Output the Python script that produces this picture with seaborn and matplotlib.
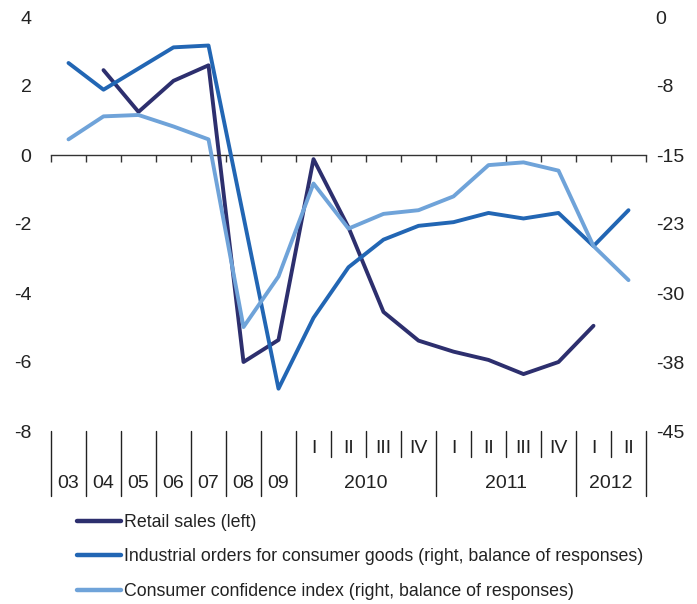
import numpy as np
import pandas as pd
import seaborn as sns
import matplotlib.pyplot as plt
from matplotlib.lines import Line2D
from matplotlib.transforms import blended_transform_factory

# Periods: annual 2003-2009, then quarterly 2010 Q1 - 2012 Q2
annual_labels = ["03", "04", "05", "06", "07", "08", "09"]
quarter_labels = ["I", "II", "III", "IV", "I", "II", "III", "IV", "I", "II"]
year_labels = ["2010", "2011", "2012"]
year_quarters = [4, 4, 2]

retail_sales = [np.nan, 2.46, 1.25, 2.15, 2.6, -6.0, -5.36, -0.12, -2.1, -4.55,
                -5.38, -5.7, -5.94, -6.35, -6.0, -4.95, np.nan]
industrial_orders = [-5.0, -7.9, -5.6, -3.3, -3.1, -21.7, -40.4, -32.7, -27.2,
                     -24.2, -22.7, -22.3, -21.3, -21.9, -21.3, -24.9, -21.0]
consumer_confidence = [-13.3, -10.8, -10.65, -11.9, -13.3, -33.7, -28.2, -18.1,
                       -23.0, -21.4, -21.0, -19.5, -16.1, -15.8, -16.7, -24.9, -28.6]

left_ticks = [-8, -6, -4, -2, 0, 2, 4]
right_ticks = [0, -7.5, -15, -22.5, -30, -37.5, -45]
right_tick_labels = ["0", "-8", "-15", "-23", "-30", "-38", "-45"]

series_names = [
    "Retail sales (left)",
    "Industrial orders for consumer goods (right, balance of responses)",
    "Consumer confidence index (right, balance of responses)",
]
colors = ["#2d2f6e", "#2266b4", "#6fa3d9"]

n = len(industrial_orders)
df = pd.DataFrame({
    "period": np.arange(n),
    "retail": retail_sales,
    "orders": industrial_orders,
    "confidence": consumer_confidence,
})

sns.set_style("white")
plt.rcParams["font.family"] = ["Liberation Sans", "DejaVu Sans"]
text_color = "#222222"
fs = 14

fig = plt.figure(figsize=(6.97, 6.04), dpi=100)
ax = fig.add_axes([51 / 697, 1 - 431 / 604, 595 / 697, 414 / 604])
ax2 = ax.twinx()

lw = 2.8
sns.lineplot(data=df.dropna(subset=["retail"]), x="period", y="retail", ax=ax,
             color=colors[0], linewidth=lw, legend=False)
sns.lineplot(data=df, x="period", y="orders", ax=ax2,
             color=colors[1], linewidth=lw, legend=False)
sns.lineplot(data=df, x="period", y="confidence", ax=ax2,
             color=colors[2], linewidth=lw, legend=False)

ax.set_xlim(-0.5, n - 0.5)
ax.set_ylim(-8, 4)
ax2.set_ylim(-45, 0)

for a in (ax, ax2):
    for s in a.spines.values():
        s.set_visible(False)
    a.set_xlabel("")
    a.set_ylabel("")

# zero line acting as x axis with boundary ticks
ax.spines["bottom"].set_visible(True)
ax.spines["bottom"].set_position(("data", 0))
ax.spines["bottom"].set_color("#333333")
ax.spines["bottom"].set_linewidth(1.0)
boundaries = np.arange(n + 1) - 0.5
ax.set_xticks(boundaries)
ax.set_xticklabels([])
ax.tick_params(axis="x", direction="out", length=5, width=1, color="#333333",
               bottom=True)

ax.set_yticks(left_ticks)
ax.set_yticklabels([str(t) for t in left_ticks])
ax.tick_params(axis="y", length=0, pad=14, labelsize=fs, labelcolor=text_color)
ax2.set_yticks(right_ticks)
ax2.set_yticklabels(right_tick_labels)
ax2.tick_params(axis="y", length=0, pad=7, labelsize=fs, labelcolor=text_color)

# category table below the plot
trans = blended_transform_factory(ax.transData, ax.transAxes)
full_bottom = -0.158
short_bottom = -0.062
n_annual = len(annual_labels)
full_bounds = list(range(n_annual + 1))
pos = n_annual
for q in year_quarters:
    pos += q
    full_bounds.append(pos)
for b in range(n + 1):
    bottom = full_bottom if b in full_bounds else short_bottom
    ax.plot([b - 0.5, b - 0.5], [0, bottom], transform=trans, color="#222222",
            lw=1.0, clip_on=False)

for i, lab in enumerate(annual_labels):
    ax.text(i, -0.126, lab, transform=trans, ha="center", va="center",
            fontsize=fs, color=text_color)
for j, lab in enumerate(quarter_labels):
    ax.text(n_annual + j, -0.042, lab, transform=trans, ha="center", va="center",
            fontsize=fs, color=text_color)
start = n_annual
for lab, q in zip(year_labels, year_quarters):
    ax.text(start + (q - 1) / 2, -0.126, lab, transform=trans, ha="center",
            va="center", fontsize=fs, color=text_color)
    start += q

handles = [Line2D([0], [0], color=c, lw=3.2) for c in colors]
fig.legend(handles, series_names, loc="upper left",
           bbox_to_anchor=(77 / 697, 1 - 514 / 604), frameon=False,
           fontsize=12.8, handlelength=2.5, handletextpad=0.15, labelspacing=0.98,
           borderpad=0, borderaxespad=0, labelcolor=text_color)

fig.savefig("out.png", dpi=100)
